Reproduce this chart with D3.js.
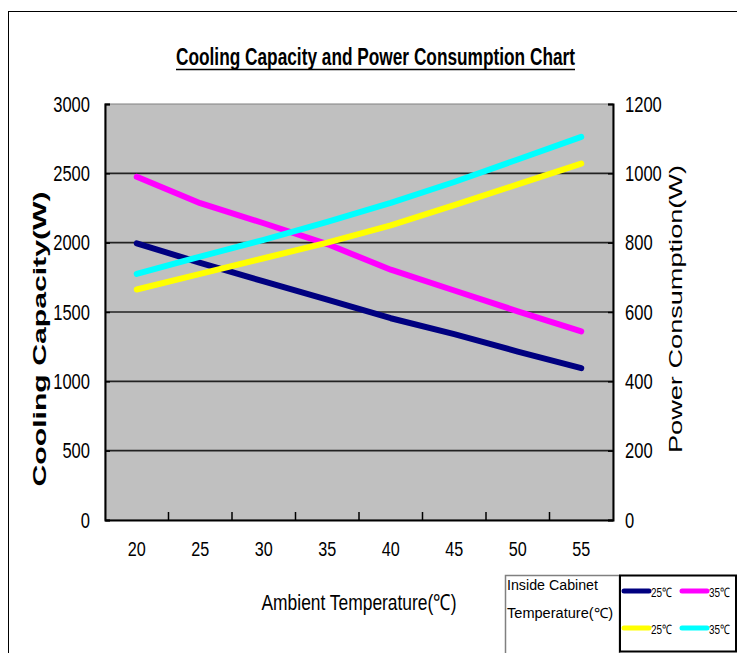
<!DOCTYPE html>
<html>
<head>
<meta charset="utf-8">
<script src="https://cdn.jsdelivr.net/npm/d3@7"></script>
<style>
  html, body { margin: 0; padding: 0; background: #fff; }
  svg { display: block; }
  text { font-family: "Liberation Sans Narrow", "Liberation Sans", Arial, sans-serif; fill: #000; }
</style>
</head>
<body>
<svg id="chart" width="737" height="653"></svg>
<script>
// ---------------- data ----------------
const categories = ["20", "25", "30", "35", "40", "45", "50", "55"];
const capacity25 = [1995, 1855, 1720, 1590, 1455, 1340, 1215, 1095];   // Cooling capacity, 25℃ cabinet (W)
const capacity35 = [2475, 2285, 2140, 1990, 1805, 1655, 1505, 1360];   // Cooling capacity, 35℃ cabinet (W)
const power25    = [665, 710, 755, 800, 850, 908, 968, 1028];           // Power consumption, 25℃ cabinet (W)
const power35    = [710, 760, 808, 860, 915, 975, 1040, 1105];          // Power consumption, 35℃ cabinet (W)
const leftTicks  = [0, 500, 1000, 1500, 2000, 2500, 3000];
const rightTicks = [0, 200, 400, 600, 800, 1000, 1200];
const titleText  = "Cooling Capacity and Power Consumption Chart";
const xTitle     = "Ambient Temperature(℃)";
const yLeftTitle = "Cooling Capacity(W)";
const yRightTitle= "Power Consumption(W)";
const legendTitle= ["Inside Cabinet", "Temperature(℃)"];
const seriesNames= ["25℃", "35℃", "25℃", "35℃"];

// ---------------- layout ----------------
const svg = d3.select("#chart");
const P = { left: 105, right: 613, top: 104, bottom: 520 };

// outer frame
svg.append("rect").attr("x", 8.5).attr("y", 11.5).attr("width", 760).attr("height", 700)
  .attr("fill", "none").attr("stroke", "#000").attr("stroke-width", 1);

const x = d3.scaleBand().domain(categories).range([P.left, P.right]).paddingInner(0).paddingOuter(0);
const yL = d3.scaleLinear().domain([0, 3000]).range([P.bottom, P.top]);
const yR = d3.scaleLinear().domain([0, 1200]).range([P.bottom, P.top]);
const bw = x.bandwidth();

// plot background
svg.append("rect").attr("x", P.left).attr("y", P.top)
  .attr("width", P.right - P.left).attr("height", P.bottom - P.top)
  .attr("fill", "#c0c0c0").attr("stroke", "#808080").attr("stroke-width", 1);

// gridlines
svg.append("g").selectAll("line").data(leftTicks.filter(d => d > 0 && d < 3000)).join("line")
  .attr("x1", P.left).attr("x2", P.right)
  .attr("y1", d => yL(d)).attr("y2", d => yL(d))
  .attr("stroke", "#222").attr("stroke-width", 1.6);

// left axis
const gL = svg.append("g").attr("transform", `translate(${P.left},0)`)
  .call(d3.axisLeft(yL).tickValues(leftTicks).tickSize(-5).tickPadding(15).tickFormat(d3.format("d")));
gL.select(".domain").attr("stroke", "#000").attr("stroke-width", 2);
gL.selectAll(".tick line").attr("stroke", "#000").attr("stroke-width", 1.5);
gL.selectAll(".tick text").attr("font-size", 22).attr("font-family", "Liberation Sans Narrow, Liberation Sans")
  .attr("fill", "#222")
  .attr("textLength", d => String(d).length * 9.2).attr("lengthAdjust", "spacingAndGlyphs");

// right axis
const gR = svg.append("g").attr("transform", `translate(${P.right},0)`)
  .call(d3.axisRight(yR).tickValues(rightTicks).tickSize(-5).tickPadding(12).tickFormat(d3.format("d")));
gR.select(".domain").attr("stroke", "#000").attr("stroke-width", 2);
gR.selectAll(".tick line").attr("stroke", "#000").attr("stroke-width", 1.5);
gR.selectAll(".tick text").attr("font-size", 22).attr("font-family", "Liberation Sans Narrow, Liberation Sans")
  .attr("fill", "#222")
  .attr("textLength", d => String(d).length * 9.2).attr("lengthAdjust", "spacingAndGlyphs");

// bottom axis
const gB = svg.append("g").attr("transform", `translate(0,${P.bottom})`)
  .call(d3.axisBottom(x).tickSize(0).tickPadding(22));
gB.select(".domain").attr("stroke", "#000").attr("stroke-width", 2);
gB.selectAll(".tick text").attr("font-size", 20).attr("font-family", "Liberation Sans Narrow, Liberation Sans")
  .attr("fill", "#222")
  .attr("textLength", d => String(d).length * 9).attr("lengthAdjust", "spacingAndGlyphs");
// category-boundary tick marks (inward)
svg.append("g").selectAll("line").data(categories.slice(1)).join("line")
  .attr("x1", d => x(d)).attr("x2", d => x(d))
  .attr("y1", P.bottom).attr("y2", P.bottom - 8)
  .attr("stroke", "#000").attr("stroke-width", 1.5);

// lines
const series = [
  { vals: capacity25, scale: yL, color: "#000080" },
  { vals: capacity35, scale: yL, color: "#ff00ff" },
  { vals: power25,    scale: yR, color: "#ffff00" },
  { vals: power35,    scale: yR, color: "#00ffff" }
];
series.forEach(s => {
  const line = d3.line().x((d, i) => x(categories[i]) + bw / 2).y(d => s.scale(d));
  svg.append("path").datum(s.vals).attr("d", line)
    .attr("fill", "none").attr("stroke", s.color).attr("stroke-width", 6)
    .attr("stroke-linecap", "round").attr("stroke-linejoin", "round");
});

// title
svg.append("text").attr("x", 375.5).attr("y", 65).attr("text-anchor", "middle")
  .attr("font-size", 23).attr("font-weight", "bold")
  .attr("textLength", 399).attr("lengthAdjust", "spacingAndGlyphs")
  .text(titleText);
svg.append("line").attr("x1", 176).attr("x2", 575).attr("y1", 69.5).attr("y2", 69.5)
  .attr("stroke", "#000").attr("stroke-width", 1.5);

// axis titles
svg.append("text").attr("x", 359).attr("y", 610).attr("text-anchor", "middle")
  .attr("font-size", 22).attr("textLength", 195).attr("lengthAdjust", "spacingAndGlyphs")
  .text(xTitle);
svg.append("text").attr("transform", "translate(46,339) rotate(-90)").attr("text-anchor", "middle")
  .attr("font-size", 18).attr("font-weight", "bold")
  .attr("font-family", "Liberation Sans, Arial, sans-serif")
  .attr("textLength", 295).attr("lengthAdjust", "spacingAndGlyphs")
  .text(yLeftTitle);
svg.append("text").attr("transform", "translate(682,309) rotate(-90)").attr("text-anchor", "middle")
  .attr("font-size", 18)
  .attr("font-family", "Liberation Sans, Arial, sans-serif")
  .attr("textLength", 288).attr("lengthAdjust", "spacingAndGlyphs")
  .text(yRightTitle);

// legend
svg.append("rect").attr("x", 505.5).attr("y", 575.5).attr("width", 114).attr("height", 90)
  .attr("fill", "#fff").attr("stroke", "#808080").attr("stroke-width", 1.5);
svg.append("text").attr("x", 507).attr("y", 590).attr("font-size", 14)
  .attr("textLength", 91).attr("lengthAdjust", "spacingAndGlyphs").text(legendTitle[0]);
svg.append("text").attr("x", 507).attr("y", 618).attr("font-size", 14)
  .attr("textLength", 106).attr("lengthAdjust", "spacingAndGlyphs").text(legendTitle[1]);
svg.append("rect").attr("x", 620).attr("y", 575.5).attr("width", 116).attr("height", 76)
  .attr("fill", "#fff").attr("stroke", "#000").attr("stroke-width", 2);

const legendPos = [
  { x: 622, y: 591 }, { x: 680, y: 591 }, { x: 622, y: 628 }, { x: 680, y: 628 }
];
series.forEach((s, i) => {
  const p = legendPos[i];
  svg.append("line").attr("x1", p.x + 2).attr("x2", p.x + 27).attr("y1", p.y).attr("y2", p.y)
    .attr("stroke", s.color).attr("stroke-width", 5).attr("stroke-linecap", "round");
  svg.append("text").attr("x", p.x + 29).attr("y", p.y + 6).attr("font-size", 13)
    .attr("textLength", 21).attr("lengthAdjust", "spacingAndGlyphs").text(seriesNames[i]);
});
</script>
</body>
</html>
